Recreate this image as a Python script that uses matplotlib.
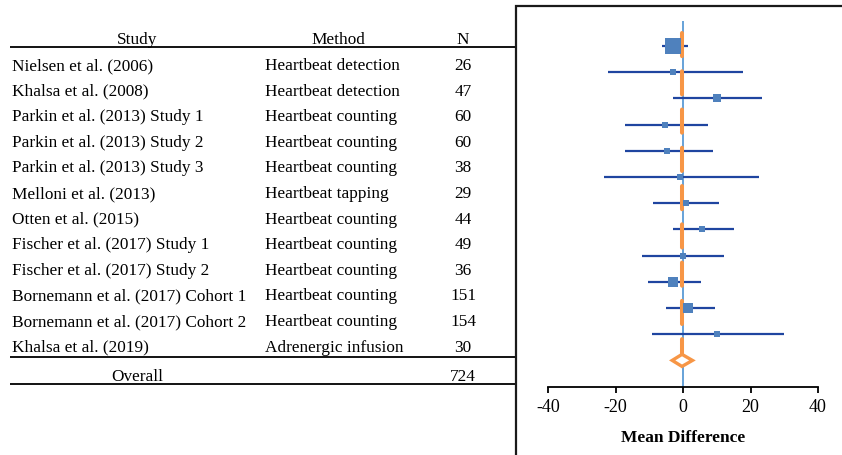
import matplotlib
matplotlib.use("Agg")
import matplotlib.pyplot as plt
import numpy as np
from matplotlib.patches import Rectangle

plt.rcParams["font.family"] = ["Liberation Serif", "DejaVu Serif"]
plt.rcParams["axes.unicode_minus"] = False

# Study table
studies = [
    "Nielsen et al. (2006)",
    "Khalsa et al. (2008)",
    "Parkin et al. (2013) Study 1",
    "Parkin et al. (2013) Study 2",
    "Parkin et al. (2013) Study 3",
    "Melloni et al. (2013)",
    "Otten et al. (2015)",
    "Fischer et al. (2017) Study 1",
    "Fischer et al. (2017) Study 2",
    "Bornemann et al. (2017) Cohort 1",
    "Bornemann et al. (2017) Cohort 2",
    "Khalsa et al. (2019)",
]
methods = [
    "Heartbeat detection",
    "Heartbeat detection",
    "Heartbeat counting",
    "Heartbeat counting",
    "Heartbeat counting",
    "Heartbeat tapping",
    "Heartbeat counting",
    "Heartbeat counting",
    "Heartbeat counting",
    "Heartbeat counting",
    "Heartbeat counting",
    "Adrenergic infusion",
]
n_sizes = [26, 47, 60, 60, 38, 29, 44, 49, 36, 151, 154, 30]
n_total = 724

# Effect estimates (mean difference, 95% CI) and relative weights (%)
mean_diff = [-2.9, -2.9, 10.1, -5.2, -4.6, -1.0, 1.0, 5.7, -0.1, -2.9, 1.5, 10.0]
ci_low = [-6.3, -22.1, -2.9, -17.1, -17.3, -23.3, -8.8, -3.0, -12.1, -10.3, -5.1, -9.1]
ci_high = [1.6, 17.8, 23.3, 7.3, 8.8, 22.4, 10.7, 15.0, 12.1, 5.4, 9.6, 29.9]
weights = [33.1, 4.7, 6.3, 5.4, 5.4, 3.9, 5.4, 5.4, 5.4, 10.5, 10.5, 3.9]
overall_md = -0.3
overall_low = -3.2
overall_high = 2.8

W, H = 842, 455
fig = plt.figure(figsize=(W / 100, H / 100), dpi=100)


def fx(px):
    return px / W


def fy(py):
    return 1 - py / H


# ---- table on the left ----
tab = fig.add_axes([0, 0, fx(516), 1])
tab.set_xlim(0, 516)
row0, row_step = 66, 25.6
tab.set_ylim((H - row0) / row_step, -row0 / row_step)
tab.axis("off")

fs = 12.4
tab.text(137, -1, "Study", ha="center", va="center", fontsize=fs)
tab.text(338, -1, "Method", ha="center", va="center", fontsize=fs)
tab.text(463, -1, "N", ha="center", va="center", fontsize=fs)
for i, (s, m, n) in enumerate(zip(studies, methods, n_sizes)):
    tab.text(12, i, s, ha="left", va="center", fontsize=fs)
    tab.text(265, i, m, ha="left", va="center", fontsize=fs)
    tab.text(463, i, str(n), ha="center", va="center", fontsize=fs)
overall_row = 12.15
tab.text(137, overall_row, "Overall", ha="center", va="center", fontsize=fs)
tab.text(463, overall_row, str(n_total), ha="center", va="center", fontsize=fs)

# rules under the header, the last study and the overall row
for py in (47, 357, 384):
    r = (py - row0) / row_step
    tab.plot([10, 516], [r, r], color="black", lw=1.3, clip_on=False,
             solid_capstyle="butt")

# ---- chart area border ----
fig.add_artist(Rectangle((fx(516), -0.1), 1, fy(6) + 0.1, transform=fig.transFigure,
                         fill=False, edgecolor="#1a1a1a", lw=1.6))

# ---- forest plot ----
ax_top, ax_bot = 14.6, 387
ax = fig.add_axes([fx(548), fy(ax_bot), fx(818) - fx(548), (ax_bot - ax_top) / H])
row_px = 26.2
ax.set_xlim(-40, 40)
ax.set_ylim((ax_bot - 46) / row_px, (ax_top - 46) / row_px)
ax.patch.set_alpha(0)

rows = np.arange(len(studies))
y_bottom = (ax_bot - 46) / row_px

ax.vlines(0, -0.95, y_bottom, color="#5b9bd5", lw=1.3, zorder=1)
ax.hlines(rows, ci_low, ci_high, color="#1f45a0", lw=1.6, zorder=2)

ax.plot([overall_md, overall_md], [-0.5, 12 - 0.23], color="#f79646", lw=2.9,
        dashes=(5.75, 3.75), dash_capstyle="round", zorder=3)

sizes = 2.1 * np.sqrt(weights)
for y, md, s in zip(rows, mean_diff, sizes):
    ax.plot(md, y, marker="s", ms=s, color="#4f81bd", mec="#4f81bd", mew=0, zorder=4)

d = 0.23
ax.fill([overall_low, overall_md, overall_high, overall_md],
        [12, 12 - d, 12, 12 + d], facecolor="white", edgecolor="#f79646",
        lw=2.4, joinstyle="miter", zorder=5)

for side in ("left", "right", "top"):
    ax.spines[side].set_visible(False)
ax.spines["bottom"].set_linewidth(1.3)
ax.set_yticks([])
ax.set_xticks([-40, -20, 0, 20, 40])
ax.tick_params(axis="x", direction="out", length=4, width=1.3, labelsize=13, pad=5)
ax.set_xlabel("Mean Difference", fontsize=12.5, fontweight="bold", labelpad=10)

fig.savefig("out.png", dpi=100)
